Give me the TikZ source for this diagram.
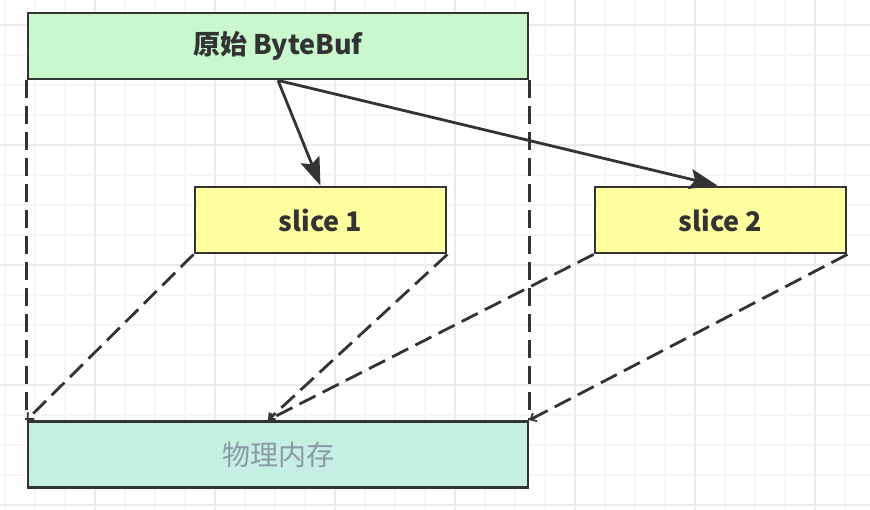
\documentclass[tikz,border=0pt]{standalone}
\usepackage{fontspec}
\usepackage{tikz}
\usepackage{xcolor}
\usetikzlibrary{arrows.meta,positioning}
\newfontfamily\cjk{Noto Sans CJK SC}

\definecolor{lineclr}{HTML}{333333}
\definecolor{bufgreen}{HTML}{C8F8CC}
\definecolor{sliceyel}{HTML}{FFFFA0}
\definecolor{memcyan}{HTML}{C6EFE4}
\definecolor{memtext}{HTML}{8A9AA4}

\tikzset{
	box/.style={draw=lineclr, line width=2.8pt, minimum height=66pt, inner sep=0pt,
		font=\cjk\bfseries\fontsize{27}{30}\selectfont, text=lineclr},
	bufbox/.style={box, fill=bufgreen, minimum width=500pt},
	slicebox/.style={box, fill=sliceyel, minimum width=251pt},
	membox/.style={box, fill=memcyan, minimum width=500pt,
		font=\cjk\fontsize{28}{30}\selectfont, text=memtext},
	refline/.style={draw=lineclr, line width=2.8pt, dash pattern=on 18pt off 8pt},
	refarrow/.style={refline, -{Straight Barb[length=5pt,width=9pt,line width=1.8pt]}},
	viewarrow/.style={draw=lineclr, line width=2.8pt, -{Stealth[length=28pt,width=20pt,inset=5pt]}}
}

\begin{document}
\begin{tikzpicture}[x=1pt,y=-1pt]
		\useasboundingbox (0,0) rectangle (870,510);
		% grid
		\foreach \x in {5,35,...,865}
			\draw[gray!8, line width=1.2pt] (\x,0) -- (\x,510);
		\foreach \y in {25,55,...,505}
			\draw[gray!8, line width=1.2pt] (0,\y) -- (870,\y);
		\foreach \x in {95,215,...,815}
			\draw[gray!16, line width=1.2pt] (\x,0) -- (\x,510);
		\foreach \y in {25,145,...,505}
			\draw[gray!16, line width=1.2pt] (0,\y) -- (870,\y);

		\node[bufbox] (buf) at (278,46) {原始 ByteBuf};
		\node[slicebox] (s1) at (320.5,220) {slice 1};
		\node[slicebox] (s2) at (720.5,220) {slice 2};
		\node[membox] (mem) at (278,454.5) {物理内存};
		\coordinate (memmid) at ([xshift=-10pt]mem.north);

		\draw[refline] (buf.south west) -- (mem.north west);
		\draw[refline] (buf.south east) -- (mem.north east);
		\draw[refarrow] (s1.south west) -- (mem.north west);
		\draw[refarrow] (s1.south east) -- (memmid);
		\draw[refarrow] (s2.south west) -- (memmid);
		\draw[refarrow] (s2.south east) -- (mem.north east);

		\draw[viewarrow] (buf.south) -- (s1.north);
		\draw[viewarrow] (buf.south) -- ([xshift=-3pt]s2.north);
	\end{tikzpicture}
\end{document}
